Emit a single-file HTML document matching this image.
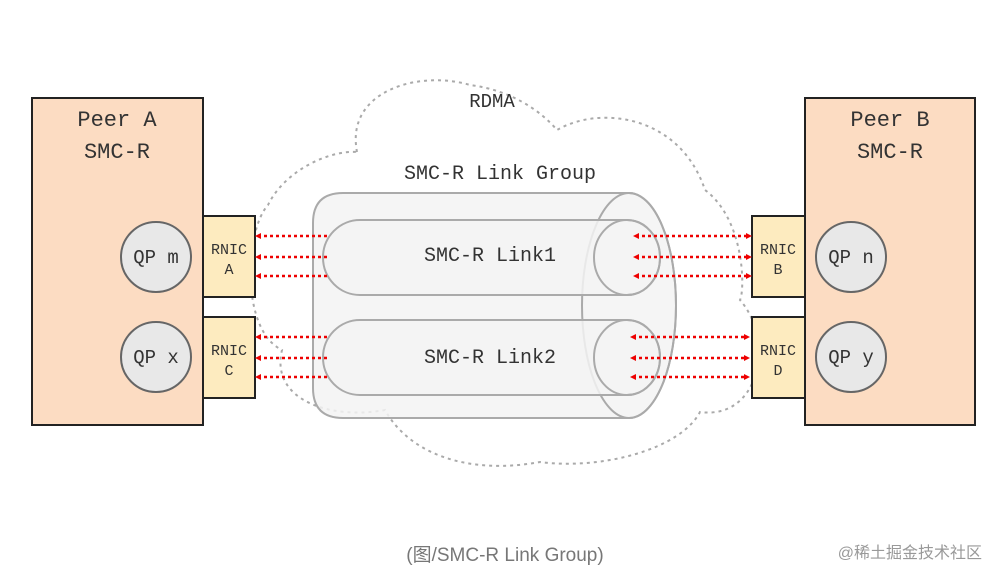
<!DOCTYPE html>
<html><head><meta charset="utf-8"><style>
body{margin:0;background:#fff;width:999px;height:581px;overflow:hidden}
svg text{font-family:"Liberation Mono",monospace;fill:#333}
</style></head><body>
<svg width="999" height="581" viewBox="0 0 999 581" xmlns="http://www.w3.org/2000/svg">
<defs>
<marker id="ah" markerWidth="6" markerHeight="6" refX="3" refY="3" orient="auto-start-reverse" markerUnits="userSpaceOnUse"><path d="M0,0 L6,3 L0,6 z" fill="#e00"/></marker>
</defs>
<!-- cloud -->
<path d="M357,152 C345,90 420,70 470,85 C510,90 540,110 557,130 C600,105 680,115 705,190 C745,220 745,290 740,300 C775,340 760,420 700,412 C680,450 600,470 540,462 C470,475 410,455 385,410 C330,420 270,400 282,350 C240,330 245,230 268,205 C285,170 330,150 357,152 Z" fill="none" stroke="#aaa" stroke-width="2" stroke-dasharray="3,4"/>
<!-- peers -->
<rect x="32" y="98" width="171" height="327" fill="#fcdcc2" stroke="#222" stroke-width="2"/>
<rect x="805" y="98" width="170" height="327" fill="#fcdcc2" stroke="#222" stroke-width="2"/>
<text x="117" y="126" font-size="22" text-anchor="middle">Peer A</text>
<text x="117" y="158" font-size="22" text-anchor="middle">SMC-R</text>
<text x="890" y="126" font-size="22" text-anchor="middle">Peer B</text>
<text x="890" y="158" font-size="22" text-anchor="middle">SMC-R</text>
<g fill="#e8e8e8" stroke="#666" stroke-width="2">
<circle cx="156" cy="257" r="35"/><circle cx="156" cy="357" r="35"/>
<circle cx="851" cy="257" r="35"/><circle cx="851" cy="357" r="35"/>
</g>
<g font-size="19" text-anchor="middle">
<text x="156" y="263">QP m</text><text x="156" y="363">QP x</text>
<text x="851" y="263">QP n</text><text x="851" y="363">QP y</text>
</g>
<g fill="#fdebbf" stroke="#222" stroke-width="2">
<rect x="203" y="216" width="52" height="81"/><rect x="203" y="317" width="52" height="81"/>
<rect x="752" y="216" width="53" height="81"/><rect x="752" y="317" width="53" height="81"/>
</g>
<g font-size="15" text-anchor="middle">
<text x="229" y="254">RNIC</text><text x="229" y="274">A</text>
<text x="229" y="355">RNIC</text><text x="229" y="375">C</text>
<text x="778" y="254">RNIC</text><text x="778" y="274">B</text>
<text x="778" y="355">RNIC</text><text x="778" y="375">D</text>
</g>
<!-- cylinder -->
<g stroke="#aaa" stroke-width="2" fill="#f3f3f3" fill-opacity="0.85">
<path d="M343,193 L629,193 A47,112.5 0 0 1 629,418 L343,418 Q313,418 313,388 L313,223 Q313,193 343,193 Z"/>
<ellipse cx="629" cy="305.5" rx="47" ry="112.5" fill="none"/>
<path d="M360,220 L627,220 A33,37.5 0 0 1 627,295 L360,295 A37,37.5 0 0 1 360,220 Z"/>
<ellipse cx="627" cy="257.5" rx="33" ry="37.5" fill="none"/>
<path d="M360,320 L627,320 A33,37.5 0 0 1 627,395 L360,395 A37,37.5 0 0 1 360,320 Z"/>
<ellipse cx="627" cy="357.5" rx="33" ry="37.5" fill="none"/>
</g>
<text x="492" y="107" font-size="19" text-anchor="middle">RDMA</text>
<text x="500" y="179" font-size="20" text-anchor="middle">SMC-R Link Group</text>
<text x="490" y="261" font-size="20" text-anchor="middle">SMC-R Link1</text>
<text x="490" y="363" font-size="20" text-anchor="middle">SMC-R Link2</text>
<!-- arrows -->
<g stroke="#e00" stroke-width="2.5" stroke-dasharray="3,3" marker-start="url(#ah)">
<line x1="258" y1="236" x2="328" y2="236"/><line x1="258" y1="257" x2="328" y2="257"/><line x1="258" y1="276" x2="328" y2="276"/>
<line x1="258" y1="337" x2="328" y2="337"/><line x1="258" y1="358" x2="328" y2="358"/><line x1="258" y1="377" x2="328" y2="377"/>
</g>
<g stroke="#e00" stroke-width="2.5" stroke-dasharray="3,3" marker-start="url(#ah)" marker-end="url(#ah)">
<line x1="636" y1="236" x2="749" y2="236"/><line x1="636" y1="257" x2="749" y2="257"/><line x1="636" y1="276" x2="749" y2="276"/>
<line x1="633" y1="337" x2="747" y2="337"/><line x1="633" y1="358" x2="747" y2="358"/><line x1="633" y1="377" x2="747" y2="377"/>
</g>
<text x="505" y="561" font-size="19" text-anchor="middle" style="font-family:'Liberation Sans','Noto Sans CJK SC',sans-serif;fill:#777">(图/SMC-R Link Group)</text>
<text x="982" y="558" font-size="16" text-anchor="end" style="font-family:'Liberation Sans','Noto Sans CJK SC',sans-serif;fill:#999">@稀土掘金技术社区</text>
</svg>
</body></html>
